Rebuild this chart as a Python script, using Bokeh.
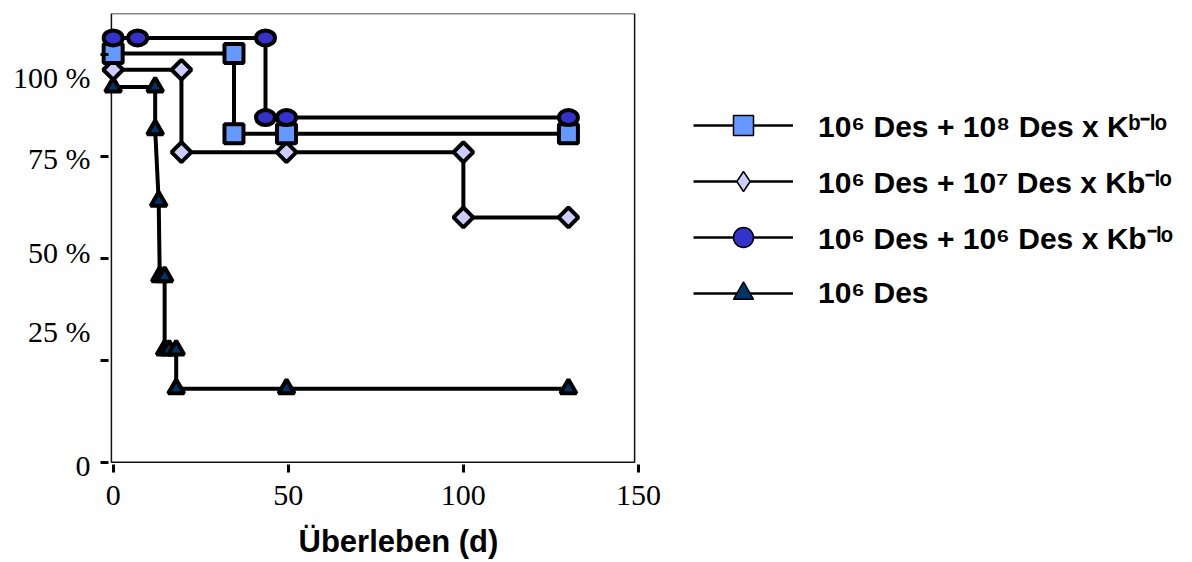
import math
from bokeh.plotting import figure
from bokeh.models import (Range1d, LinearAxis, FixedTicker, Legend, LegendItem,
                          BoxAnnotation, Label, ColumnDataSource)
from bokeh.embed import file_html
from bokeh.resources import INLINE

# ---- data ----
sq_x = [0, 34.5, 34.5, 49.5, 130]
sq_y = [100.2, 100.2, 80.5, 80.5, 80.5]
dia_x = [0, 19.5, 19.5, 49.5, 100, 100, 130]
dia_y = [96.2, 96.2, 76, 76, 76, 60, 60]
cir_x = [0, 7, 43.5, 43.5, 49.5, 130]
cir_y = [104, 104, 104, 84.5, 84.5, 84.5]
tri_x = [0, 12, 12, 13, 13.3, 14.7, 14.7, 16, 18, 18, 49.5, 130]
tri_y = [92, 92, 81.5, 64, 45.5, 45.5, 27.5, 27.5, 27.5, 18, 18, 18]

x_ticks = [0, 50, 100, 150]
y_ticks = [0, 25, 50, 75, 100]
y_tick_labels = ["0", "25 %", "50 %", "75 %", "100 %"]
y_label_pos = [-0.8, 32, 51.4, 74.4, 94.4]
x_title = "Überleben (d)"
series_names = ["10⁶ Des + 10⁸ Des x Kᵇ⁻ˡᵒ",
                "10⁶ Des + 10⁷ Des x Kb⁻ˡᵒ",
                "10⁶ Des + 10⁶ Des x Kb⁻ˡᵒ",
                "10⁶ Des"]

# ---- styles ----
C_SQ, C_DIA, C_CIR, C_TRI = "#6699FF", "#CCCCFF", "#3333CC", "#003366"
SERIF = "Liberation Serif"
SANS = "Liberation Sans"

# frame spans to the right and bottom edges so legend and x title sit inside it
p = figure(width=1192, height=562,
           x_range=Range1d(-3.9, 308.2), y_range=Range1d(-24.6, 110),
           x_axis_type=None, y_axis_type=None,
           output_backend="svg", toolbar_location=None,
           min_border_left=99, min_border_right=0,
           min_border_top=13, min_border_bottom=0)
p.outline_line_color = None
p.background_fill_color = "white"
p.border_fill_color = "white"

# visible plot box
p.add_layout(BoxAnnotation(left=-0.5, right=148.9, bottom=0,
                           fill_alpha=0, line_color="#111111", line_alpha=1.0,
                           line_width=1.5, level="underlay"))

# x axis drawn at y = 0
xax = LinearAxis(ticker=FixedTicker(ticks=x_ticks), fixed_location=0)
xax.axis_line_color = None
xax.major_tick_in = -2
xax.major_tick_out = 10
xax.major_tick_line_width = 3
xax.major_tick_line_color = "black"
xax.minor_tick_line_color = None
xax.minor_tick_out = 0
xax.major_label_standoff = 14
xax.major_label_text_font = SERIF
xax.major_label_text_font_size = "30px"
xax.major_label_text_color = "black"
p.add_layout(xax, "below")

# x title
p.add_layout(Label(x=199, y=21, x_units="screen", y_units="screen",
                   text=x_title, text_font=SANS, text_font_style="bold",
                   text_font_size="31px", text_align="left",
                   text_baseline="middle", text_color="black"))

# y axis: tick marks only
ytk = LinearAxis(ticker=FixedTicker(ticks=y_ticks))
ytk.axis_line_color = None
ytk.major_tick_in = 9
ytk.major_tick_out = -1
ytk.major_tick_line_width = 3
ytk.major_tick_line_color = "black"
ytk.minor_tick_line_color = None
ytk.major_label_standoff = 0
ytk.major_label_overrides = {v: "" for v in y_ticks}
p.add_layout(ytk, "left")

# y axis: labels only
ylb = LinearAxis(ticker=FixedTicker(ticks=y_label_pos))
ylb.axis_line_color = None
ylb.major_tick_line_color = None
ylb.minor_tick_line_color = None
ylb.major_tick_in = 0
ylb.major_tick_out = 0
ylb.major_label_standoff = 9
ylb.major_label_overrides = dict(zip(y_label_pos, y_tick_labels))
ylb.major_label_text_font = SERIF
ylb.major_label_text_font_size = "30px"
ylb.major_label_text_color = "black"
p.add_layout(ylb, "left")

src_sq = ColumnDataSource(data=dict(x=sq_x, y=sq_y))
src_dia = ColumnDataSource(data=dict(x=dia_x, y=dia_y))
src_cir = ColumnDataSource(data=dict(x=cir_x, y=cir_y))
src_tri = ColumnDataSource(data=dict(x=tri_x, y=tri_y))

# legend proxies: thin line hidden beneath the series line, zero-size markers
def proxy(src, marker, color):
    ln = p.line("x", "y", source=src, line_color="black", line_width=2.5,
                level="underlay")
    mk = p.scatter("x", "y", source=src, marker=marker, size=0,
                   fill_color=color, line_color="black", line_width=1.5)
    return [ln, mk]

LW = 4
# triangles
p.line("x", "y", source=src_tri, line_color="black", line_width=LW)
p.scatter("x", "y", source=src_tri, marker="triangle", size=16,
          fill_color=C_TRI, line_color="black", line_width=LW)
# diamonds
p.line("x", "y", source=src_dia, line_color="black", line_width=LW)
p.scatter("x", "y", source=src_dia, marker="square", angle=math.pi / 4, size=14,
          fill_color=C_DIA, line_color="black", line_width=LW)
# squares
p.line("x", "y", source=src_sq, line_color="black", line_width=LW)
p.scatter("x", "y", source=src_sq, marker="square", size=19,
          fill_color=C_SQ, line_color="black", line_width=LW)
# circles (slightly oval)
p.line("x", "y", source=src_cir, line_color="black", line_width=LW)
p.ellipse("x", "y", source=src_cir, width=19, height=15,
          width_units="screen", height_units="screen",
          fill_color=C_CIR, line_color="black", line_width=LW)

items = [
    LegendItem(label=series_names[0], renderers=proxy(src_sq, "square", C_SQ)),
    LegendItem(label=series_names[1], renderers=proxy(src_dia, "diamond", C_DIA)),
    LegendItem(label=series_names[2], renderers=proxy(src_cir, "circle", C_CIR)),
    LegendItem(label=series_names[3], renderers=proxy(src_tri, "triangle", C_TRI)),
]
legend = Legend(items=items, location=(594, 244),
                glyph_width=100, glyph_height=50, spacing=6,
                padding=0, margin=0, label_standoff=25,
                label_text_font=SANS, label_text_font_style="bold",
                label_text_font_size="30px", label_text_color="black",
                border_line_color=None, background_fill_alpha=0)
p.add_layout(legend, "center")

open("out.html", "w").write(file_html(p, INLINE))
